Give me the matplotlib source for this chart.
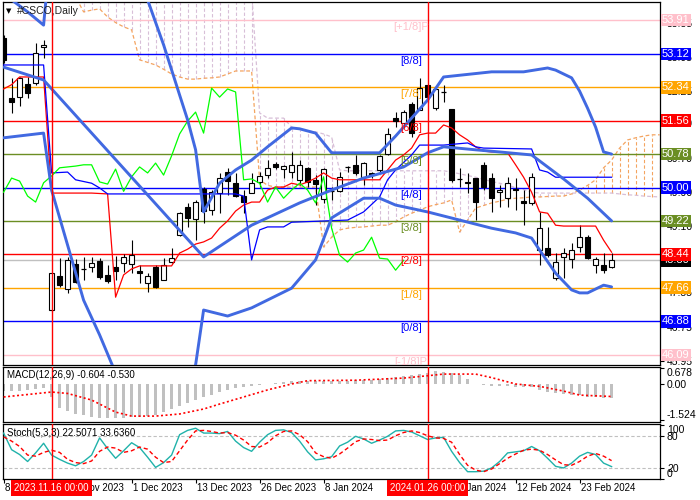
import matplotlib
matplotlib.use('Agg')
import matplotlib.pyplot as plt
import matplotlib.transforms as mtransforms
from matplotlib.patches import Rectangle

plt.rcParams['font.family'] = ['Liberation Sans', 'DejaVu Sans']

# ---------------- data ----------------
date_labels = ['8 Nov 2023', '20 Nov 2023', '1 Dec 2023', '13 Dec 2023', '26 Dec 2023',
               '8 Jan 2024', '', '31 Jan 2024', '12 Feb 2024', '23 Feb 2024']
date_ticks = [0, 8, 16, 24, 32, 40, 48, 56, 64, 72]
marker_bars = [6, 53]
marker_labels = ['2023.11.16 00:00', '2024.01.26 00:00']

opens = [53.49, 52.09, 52.11, 52.42, 52.44, 53.28, 47.14, 47.93, 47.63, 48.21,
         48.07, 48.14, 48.28, 47.96, 48.14, 48.24, 48.21, 48.05, 47.77, 48.14,
         47.84, 48.26, 48.89, 49.54, 49.26, 49.96, 49.47, 49.87, 50.36, 50.11,
         49.80, 49.87, 50.13, 50.29, 50.55, 50.43, 50.36, 50.18, 50.46, 50.18,
         49.73, 49.89, 49.92, 50.46, 50.53, 50.25, 50.34, 50.41, 50.78, 51.62,
         51.51, 51.95, 51.81, 52.39, 51.86, 52.21, 51.83, 50.22, 50.13, 50.22,
         50.53, 50.22, 49.89, 49.75, 49.97, 49.68, 49.64, 48.54, 48.59, 47.89,
         48.38, 48.33, 48.61, 48.84, 48.19, 48.19, 48.14]
highs = [53.55, 52.56, 52.58, 52.58, 53.37, 53.44, 48.00, 48.35, 48.38, 48.33,
         48.38, 48.38, 48.35, 48.19, 48.40, 48.45, 48.77, 48.19, 48.00, 48.19,
         48.35, 48.59, 49.43, 49.64, 49.71, 50.01, 49.94, 50.34, 50.46, 50.34,
         49.94, 50.34, 50.36, 50.64, 50.60, 50.53, 50.83, 50.64, 50.48, 50.29,
         50.46, 50.01, 50.36, 50.50, 50.76, 50.60, 50.36, 50.76, 51.39, 51.76,
         51.81, 51.99, 52.56, 52.39, 52.32, 52.39, 51.83, 50.46, 50.34, 50.22,
         50.60, 50.34, 50.06, 50.25, 50.22, 49.94, 50.34, 49.43, 49.08, 48.47,
         48.59, 48.70, 49.12, 48.89, 48.38, 48.47, 48.47]
lows = [52.90, 51.74, 51.90, 52.09, 52.39, 53.02, 47.10, 47.68, 47.54, 47.77,
        47.84, 48.03, 47.86, 47.77, 47.84, 48.03, 48.00, 47.77, 47.56, 47.66,
        47.84, 48.24, 48.87, 49.08, 48.77, 49.17, 49.36, 49.40, 49.83, 49.78,
        49.40, 49.87, 50.01, 50.22, 50.43, 50.22, 50.22, 50.06, 50.01, 49.59,
        49.64, 49.71, 49.89, 50.36, 50.29, 50.06, 50.22, 50.36, 50.76, 51.41,
        51.41, 51.18, 51.81, 51.97, 51.81, 52.00, 50.13, 50.01, 49.87, 49.24,
        49.94, 49.43, 49.54, 49.54, 49.47, 49.12, 49.59, 48.19, 48.38, 47.84,
        47.89, 48.12, 48.49, 48.33, 48.00, 48.00, 48.12]
closes = [52.98, 52.00, 52.56, 52.21, 53.14, 53.33, 48.00, 47.72, 48.31, 47.79,
          48.09, 48.24, 47.91, 47.82, 48.05, 48.38, 48.42, 48.00, 47.93, 47.68,
          48.19, 48.35, 49.40, 49.29, 49.66, 49.45, 49.89, 50.22, 50.15, 49.80,
          49.66, 50.11, 50.27, 50.46, 50.48, 50.50, 50.53, 50.53, 50.13, 50.08,
          50.43, 49.91, 50.25, 50.48, 50.34, 50.57, 50.29, 50.74, 51.25, 51.55,
          51.76, 51.27, 52.32, 52.11, 52.30, 52.23, 50.18, 50.20, 50.10, 49.66,
          50.01, 49.75, 49.94, 50.10, 49.94, 49.64, 50.25, 49.05, 48.42, 48.26,
          48.47, 48.54, 48.84, 48.35, 48.33, 48.07, 48.30]
last_price = 48.30

mm_levels = [53.91, 53.12, 52.34, 51.56, 50.78, 50.00, 49.22, 48.44, 47.66, 46.88, 46.09]
mm_names = ['[+1/8]P', '[8/8]', '[7/8]', '[6/8]', '[5/8]', '[4/8]', '[3/8]', '[2/8]',
            '[1/8]', '[0/8]', '[-1/8]P']
mm_colors = ['#FFC0CB', '#0000FF', '#FFA500', '#FF0000', '#6B8E23', '#0000FF',
             '#6B8E23', '#FF0000', '#FFA500', '#0000FF', '#FFC0CB']
price_ticks = [53.85, 53.05, 52.25, 51.50, 50.70, 49.90, 49.10, 48.35, 47.55, 46.75, 45.95]
price_tick_labels = ['53.85', '53.05', '52.25', '51.50', '50.70', '49.90', '49.10', '',
                     '47.55', '46.75', '45.95']

# Bollinger bands (bar index, value)
bb_up_idx = [0, 1, 3, 5, 6, 10, 17, 18, 20, 22, 23, 24, 25, 27, 29, 31, 33, 36, 37, 39,
             41, 47, 49, 53, 55, 61, 65, 68, 69, 71, 72, 73, 74, 75, 76]
bb_up = [54.50, 54.38, 54.10, 53.79, 55.80, 56.50, 54.60, 54.38, 53.33, 52.16, 51.58,
         50.88, 49.43, 50.10, 50.41, 50.64, 50.95, 51.39, 51.37, 51.27, 50.81, 50.81,
         51.20, 52.04, 52.58, 52.70, 52.70, 52.79, 52.74, 52.56, 52.25, 51.85, 51.41,
         50.83, 50.78]
bb_mid_idx = [0, 5, 16, 25, 31, 37, 41, 45, 50, 53, 55, 59, 62, 66, 70, 73, 76]
bb_mid = [52.81, 52.51, 50.24, 48.38, 49.12, 49.64, 49.94, 50.22, 50.48, 50.81, 50.95,
          50.88, 50.83, 50.76, 50.20, 49.75, 49.22]
bb_low_idx = [0, 5, 6, 10, 12, 14, 17, 21, 24, 25, 28, 31, 36, 39, 41, 45, 47, 49, 53,
              57, 61, 64, 66, 67, 69, 71, 72, 73, 75, 76]
bb_low = [51.16, 51.27, 49.94, 47.37, 46.56, 45.67, 44.80, 44.90, 45.86, 47.14, 47.00,
          47.19, 47.65, 48.31, 49.29, 49.75, 49.75, 49.59, 49.43, 49.24, 49.05, 48.94,
          48.82, 48.54, 48.00, 47.61, 47.54, 47.54, 47.72, 47.68]

# Ichimoku
tenkan = [52.30, 52.40, 52.58, 52.58, 52.58, 52.58, 49.87, 49.87, 49.87, 49.87,
          49.87, 49.87, 49.86, 49.85, 47.44, 47.96, 48.10, 48.17, 48.17, 48.17,
          48.17, 48.17, 48.47, 48.56, 48.68, 48.73, 48.82, 49.05, 49.22, 49.45,
          49.59, 49.66, 49.66, 49.94, 50.01, 50.01, 50.10, 50.06, 50.13, 50.22,
          50.34, 50.22, 50.18, 50.18, 50.18, 50.18, 50.18, 50.18, 50.41, 50.64,
          50.76, 50.92, 51.23, 51.27, 51.27, 51.46, 51.39, 51.23, 51.11, 50.95,
          50.85, 50.83, 50.83, 50.81, 50.53, 50.24, 49.89, 49.43, 49.40, 49.12,
          49.10, 49.10, 49.10, 49.10, 49.10, 48.77, 48.49]
kijun_idx = [0, 5, 6, 8, 9, 11, 12, 13, 29, 30, 31, 32, 33, 35, 36, 43, 45, 47, 48, 49,
             51, 52, 55, 58, 59, 60, 66, 67, 68, 69, 76]
kijun = [52.86, 52.86, 50.34, 50.36, 50.18, 50.10, 49.99, 49.85, 49.85, 49.80, 48.31,
         49.01, 49.08, 49.08, 49.19, 49.24, 49.43, 49.78, 50.18, 50.41, 50.76, 50.99,
         50.99, 51.04, 50.95, 50.92, 50.90, 50.41, 50.36, 50.24, 50.24]
span_start = 9
senkou_a = [54.45, 54.10, 54.14, 54.17, 53.98, 53.85, 53.75, 53.68,
            52.98, 52.92, 52.86, 52.76, 52.65, 52.58, 52.53, 52.53, 52.55, 52.56, 52.58,
            52.65, 52.72, 52.72, 52.72,
            50.18, 50.05, 50.01, 50.01, 50.01, 50.01, 50.01, 50.01,
            48.61, 48.84, 49.01, 49.05, 49.07, 49.08, 49.10, 49.12, 49.12, 49.20, 49.31,
            49.40, 49.47, 49.55, 49.60, 49.64, 49.71,
            48.96, 49.24, 49.52, 49.58, 49.64, 49.68, 49.73, 49.75, 49.76, 49.78, 49.78,
            49.79, 49.80, 49.80, 49.85, 49.94, 50.05, 50.18, 50.46, 50.64, 50.92, 51.11,
            51.16, 51.20, 51.23, 51.23]
senkou_b = [54.60] * 23 + [
            51.74, 51.62, 51.62, 51.62, 51.41, 51.35, 51.32, 51.30, 51.25, 51.18, 50.41] + \
           [50.39] * 13 + [
            50.36, 50.32, 50.28, 50.24, 50.19, 50.14, 50.10, 50.05, 50.00, 49.95, 49.89] + \
           [49.87] * 10 + [49.85, 49.83, 49.82, 49.80, 49.79, 49.78]
chikou_shift = 26

# MACD
macd_hist = [-0.30, -0.30, -0.28, -0.25, -0.22, -0.18, -0.55, -1.00, -1.15, -1.28,
             -1.33, -1.38, -1.42, -1.45, -1.45, -1.43, -1.40, -1.38, -1.35, -1.30,
             -1.20, -1.08, -0.93, -0.80, -0.68, -0.55, -0.45, -0.35, -0.25, -0.18,
             -0.13, -0.08, -0.03, 0.02, 0.06, 0.10, 0.12, 0.13, 0.13, 0.12,
             0.12, 0.12, 0.13, 0.14, 0.15, 0.15, 0.17, 0.20, 0.25, 0.30,
             0.33, 0.36, 0.42, 0.48, 0.55, 0.52, 0.45, 0.38, 0.20, 0.02,
             -0.05, -0.10, -0.10, -0.10, -0.11, -0.12, -0.14, -0.25, -0.32, -0.38,
             -0.42, -0.45, -0.48, -0.53, -0.56, -0.59, -0.604]
macd_sig_idx = [0, 6, 8, 11, 14, 16, 19, 22, 25, 27, 30, 33, 36, 38, 44, 50, 53, 55,
                59, 61, 64, 67, 70, 72, 76]
macd_sig = [-0.55, -0.34, -0.40, -0.68, -1.19, -1.36, -1.36, -1.27, -1.06, -0.85, -0.55,
            -0.25, 0.00, 0.14, 0.16, 0.25, 0.35, 0.42, 0.42, 0.27, 0.00, -0.10, -0.30,
            -0.47, -0.53]

# Stochastic
stoch_main = [85, 54, 45, 32, 48, 66, 44, 36, 29, 24,
              32, 44, 76, 56, 38, 52, 67, 58, 40, 21,
              30, 44, 82, 90, 94, 85, 85, 84, 88, 70,
              58, 51, 68, 82, 90, 91, 86, 70, 50, 35,
              37, 41, 61, 68, 79, 74, 66, 72, 79, 89,
              90, 87, 80, 73, 76, 77, 51, 30, 13, 13,
              14, 20, 32, 48, 50, 52, 60, 52, 38, 23,
              20, 29, 42, 49, 45, 29, 22.5]
stoch_sig = [78, 70, 60, 44, 42, 49, 53, 49, 36, 30,
             28, 33, 51, 59, 57, 49, 52, 59, 55, 40,
             30, 32, 52, 72, 89, 90, 88, 85, 86, 81,
             72, 60, 59, 67, 80, 88, 89, 82, 69, 48,
             41, 38, 46, 57, 69, 74, 73, 71, 72, 80,
             86, 89, 86, 80, 76, 75, 68, 45, 25, 16,
             13, 18, 28, 38, 46, 53, 55, 53, 45, 35,
             26, 25, 32, 42, 47, 42, 33.6]

# ---------------- figure ----------------
W, H = 700, 500
fig = plt.figure(figsize=(7, 5), dpi=100)
fig.patch.set_facecolor('white')


def rect(l, t, r, b):
    return [l / W, 1 - b / H, (r - l) / W, (b - t) / H]


ax = fig.add_axes(rect(3, 2, 660, 365))
axm = fig.add_axes(rect(3, 367, 660, 422), sharex=ax)
axs = fig.add_axes(rect(3, 424, 660, 479), sharex=ax)
for a in (ax, axm, axs):
    for sp in a.spines.values():
        sp.set_linewidth(0.9)
        sp.set_color('black')

ax.set_xlim(-0.075, 82.05)
ax.set_ylim(45.857, 54.33)

# Ichimoku cloud hatching
span_idx = list(range(span_start, span_start + len(senkou_a)))
for i, a_, b_ in zip(span_idx, senkou_a, senkou_b):
    col = '#D8BFD8' if b_ > a_ else '#F4A460'
    ax.vlines(i, min(a_, b_), max(a_, b_), colors=col, linestyles=(0, (3, 2)),
              lw=0.8, zorder=1)
ax.plot(span_idx, senkou_a, color='#F4A460', ls=(0, (3, 2)), lw=0.9, zorder=1.5)
ax.plot(span_idx, senkou_b, color='#D8BFD8', ls=(0, (3, 2)), lw=0.9, zorder=1.5)

# Murrey math lines
for lvl, col in zip(mm_levels, mm_colors):
    ax.axhline(lvl, color=col, lw=1.0, zorder=2)
ax.axhline(last_price, color='#C0C0C0', lw=1.0, zorder=2)

# candles
n = len(closes)
for i in range(n):
    o, h, l, c = opens[i], highs[i], lows[i], closes[i]
    ax.vlines(i, l, h, color='black', lw=0.8, zorder=3)
    if abs(c - o) < 0.03:
        ax.hlines(c, i - 0.3, i + 0.3, color='black', lw=0.9, zorder=3.1)
    else:
        ax.add_patch(Rectangle((i - 0.3, min(o, c)), 0.6, abs(c - o),
                               fc='white' if c > o else 'black', ec='black',
                               lw=0.8, zorder=3.1))

# Ichimoku lines
ax.plot(range(n), tenkan, color='#FF0000', lw=0.9, zorder=4)
ax.plot(kijun_idx, kijun, color='#0000FF', lw=0.9, zorder=4)
ax.plot(range(n - chikou_shift), closes[chikou_shift:], color='#00FF00', lw=0.9, zorder=4)

# Bollinger bands
for xi, yv in ((bb_up_idx, bb_up), (bb_mid_idx, bb_mid), (bb_low_idx, bb_low)):
    ax.plot(xi, yv, color='#4169E1', lw=2.1, zorder=4.5, solid_capstyle='round')

# Murrey labels
lab_trans = ax.transData + mtransforms.ScaledTranslation(0, -1.5 / 72, fig.dpi_scale_trans)
for lvl, name, col in zip(mm_levels, mm_names, mm_colors):
    ax.text(50.9, lvl, name, transform=lab_trans, ha='center', va='top', fontsize=8,
            color=col, zorder=6, clip_on=True)

# right price axis
ax.yaxis.tick_right()
ax.set_yticks(price_ticks)
ax.set_yticklabels(price_tick_labels)
ax.tick_params(axis='y', length=3, width=0.8, pad=2, labelsize=7.5, direction='out')
ax.tick_params(axis='x', bottom=False, labelbottom=False)
box_trans = mtransforms.blended_transform_factory(ax.transAxes, ax.transData)
ax.text(1.003, last_price, f'{last_price:.2f}', transform=box_trans, ha='left',
        va='center', color='white', fontsize=8,
        bbox=dict(boxstyle='square,pad=0.12', fc='black', ec='none'),
        clip_on=False, zorder=9)
for lvl, col in zip(mm_levels, mm_colors):
    ax.text(1.003, lvl, f'{lvl:.2f}', transform=box_trans, ha='left', va='center',
            color='white', fontsize=8,
            bbox=dict(boxstyle='square,pad=0.12', fc=col, ec='none'),
            clip_on=False, zorder=10)

# title
fig.text(6 / W, 1 - 11 / H, '\u25BC', fontsize=5, va='center', ha='left',
         family=['DejaVu Sans'], color='black')
fig.text(17 / W, 1 - 11 / H, '#CSCO,Daily', fontsize=7.5, va='center', ha='left',
         color='#222222')

# MACD
axm.set_ylim(-1.61, 0.72)
axm.bar(range(n), macd_hist, width=0.28, color='#C0C0C0', zorder=2)
axm.plot(macd_sig_idx, macd_sig, color='red', ls=(0, (1.2, 1.5)), lw=1.2, zorder=3)
axm.yaxis.tick_right()
axm.set_yticks([0.678, 0.0, -1.524])
axm.set_yticklabels(['0.678', '0.00', '-1.524'])
tl = axm.get_yticklabels()
tl[0].set_va('top')
tl[2].set_va('bottom')
axm.tick_params(axis='y', length=3, width=0.8, pad=2, labelsize=7.5)
axm.tick_params(axis='x', bottom=False, labelbottom=False)
axm.text(0.006, 0.86, 'MACD(12,26,9) -0.604 -0.530', transform=axm.transAxes,
         fontsize=7, va='center', ha='left', zorder=6)

# Stochastic
axs.set_ylim(-0.6, 101.9)
for lv in (80, 20):
    axs.axhline(lv, color='#C0C0C0', ls=(0, (3, 2)), lw=0.8, zorder=1)
axs.plot(range(n), stoch_main, color='#20B2AA', lw=1.0, zorder=3)
axs.plot(range(n), stoch_sig, color='red', ls=(0, (3, 2)), lw=1.0, zorder=3)
axs.yaxis.tick_right()
axs.set_yticks([100, 80, 20, 0])
axs.set_yticklabels(['100', '80', '20', '0'])
tl = axs.get_yticklabels()
tl[0].set_va('top')
tl[3].set_va('bottom')
axs.tick_params(axis='y', length=3, width=0.8, pad=2, labelsize=7.5)
axs.text(0.006, 0.83, 'Stoch(5,3,3) 22.5071 33.6360', transform=axs.transAxes,
         fontsize=7, va='center', ha='left', zorder=6)

# date axis
axs.set_xticks(date_ticks)
axs.tick_params(axis='x', length=3, width=0.8, labelbottom=False)
date_trans = mtransforms.blended_transform_factory(axs.transData, fig.transFigure)
for t, lab in zip(date_ticks, date_labels):
    if lab:
        axs.text(t + 0.15, 1 - 488 / H, lab, transform=date_trans, ha='left', va='center',
                 fontsize=7, clip_on=False, zorder=5)
for b, lab in zip(marker_bars, marker_labels):
    axs.text(b, 1 - 488 / H, lab, transform=date_trans, ha='center', va='center',
             fontsize=7, color='white', clip_on=False, zorder=10,
             bbox=dict(boxstyle='square,pad=0.3', fc='red', ec='none'))

# marker verticals
for a in (ax, axm, axs):
    for b in marker_bars:
        a.axvline(b, color='red', lw=1.0, zorder=5)

fig.savefig('out.png', dpi=100, facecolor='white')
